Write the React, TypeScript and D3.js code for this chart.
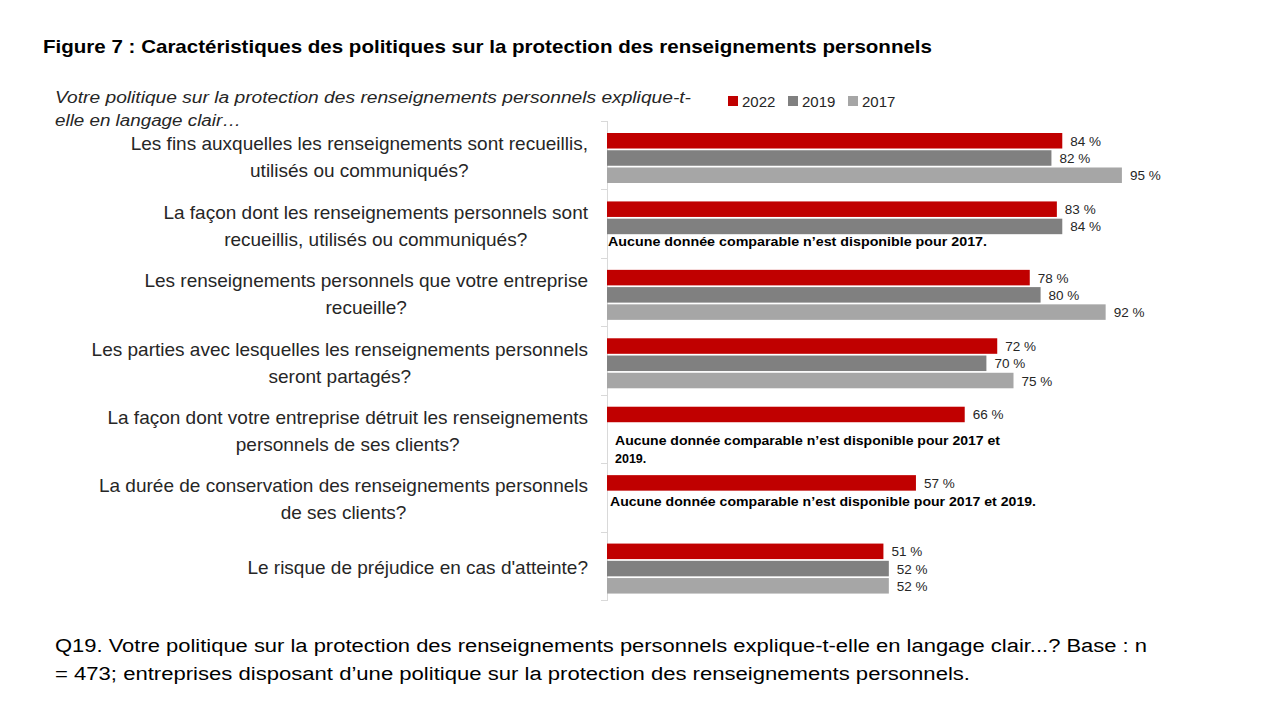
import React from "react";
import * as d3 from "d3";

const categories: string[][] = [
  ["Les fins auxquelles les renseignements sont recueillis,", "utilisés ou communiqués?"],
  ["La façon dont les renseignements personnels sont", "recueillis, utilisés ou communiqués?"],
  ["Les renseignements personnels que votre entreprise", "recueille?"],
  ["Les parties avec lesquelles les renseignements personnels", "seront partagés?"],
  ["La façon dont votre entreprise détruit les renseignements", "personnels de ses clients?"],
  ["La durée de conservation des renseignements personnels", "de ses clients?"],
  ["Le risque de préjudice en cas d'atteinte?"],
];
const seriesNames = ["2022", "2019", "2017"];
const seriesColors = ["#C00000", "#808080", "#A6A6A6"];
const v2022: (number | null)[] = [84, 83, 78, 72, 66, 57, 51];
const v2019: (number | null)[] = [82, 84, 80, 70, null, null, 52];
const v2017: (number | null)[] = [95, null, 92, 75, null, null, 52];
const notes: { cat: number; lines: string[]; widths: (number | undefined)[]; dx: number; dy: number }[] = [
  { cat: 1, lines: ["Aucune donnée comparable n’est disponible pour 2017."], widths: [379], dx: 1, dy: 53 },
  { cat: 4, lines: ["Aucune donnée comparable n’est disponible pour 2017 et", "2019."], widths: [385, undefined], dx: 8, dy: 46 },
  { cat: 5, lines: ["Aucune donnée comparable n’est disponible pour 2017 et 2019."], widths: [426], dx: 3, dy: 39 },
];
const title = "Figure 7 : Caractéristiques des politiques sur la protection des renseignements personnels";
const subtitle = ["Votre politique sur la protection des renseignements personnels explique-t-", "elle en langage clair…"];
const footer = [
  "Q19. Votre politique sur la protection des renseignements personnels explique-t-elle en langage clair...? Base : n",
  "= 473; entreprises disposant d’une politique sur la protection des renseignements personnels.",
];

const FONT = "'Liberation Sans', Arial, sans-serif";
const LABEL_SIZE = 19;

let ctx: CanvasRenderingContext2D | null = null;
function measure(t: string, size: number): number {
  if (!ctx) ctx = document.createElement("canvas").getContext("2d");
  if (!ctx) return t.length * size * 0.5;
  ctx.font = `${size}px 'Liberation Sans', Arial, sans-serif`;
  return ctx.measureText(t).width;
}

export default function App() {
  const W = 1280, H = 720;
  const allSeries = [v2022, v2019, v2017];
  const x = d3.scaleLinear().domain([0, 100]).range([607, 1149]);
  const y = d3.scaleBand<number>().domain(d3.range(categories.length)).range([121, 600]);
  const ys = d3.scaleBand<string>().domain(seriesNames).range([12, 62]).paddingInner(0.1);
  const band = y.bandwidth();

  return (
    <svg width={W} height={H} style={{ display: "block", margin: -8 }} fontFamily={FONT}>
      <rect width={W} height={H} fill="#fff" />
      <text x={43} y={53} fontSize={18.5} fontWeight="bold" fill="#000" textLength={889} lengthAdjust="spacingAndGlyphs">
        {title}
      </text>
      {subtitle.map((s, i) => (
        <text key={i} x={55} y={103 + i * 23} fontSize={16} fontStyle="italic" fill="#262626"
          textLength={i === 0 ? 636 : 186} lengthAdjust="spacingAndGlyphs">
          {s}
        </text>
      ))}
      {/* legend */}
      {seriesNames.map((s, i) => (
        <g key={s} transform={`translate(${728 + i * 60},0)`}>
          <rect x={0} y={96} width={10} height={10} fill={seriesColors[i]} />
          <text x={14} y={107} fontSize={15} fill="#262626">{s}</text>
        </g>
      ))}
      {/* axis */}
      <line x1={607.5} x2={607.5} y1={121} y2={601} stroke="#D9D9D9" />
      {d3.range(categories.length + 1).map((i) => {
        const yy = Math.round(121 + i * band) + 0.5;
        return <line key={i} x1={601} x2={607.5} y1={yy} y2={yy} stroke="#D9D9D9" />;
      })}
      {/* category labels: block right-aligned to axis, lines centred in block */}
      {categories.map((lines, i) => {
        const c = (y(i) as number) + band / 2 + 2;
        const lh = 27;
        const start = c - ((lines.length - 1) * lh) / 2;
        const blockW = Math.max(...lines.map((l) => measure(l, LABEL_SIZE)));
        const cx = 588 - blockW / 2;
        return lines.map((l, j) => (
          <text key={`${i}-${j}`} x={cx} y={start + j * lh} fontSize={LABEL_SIZE} textAnchor="middle"
            dominantBaseline="central" fill="#262626">
            {l}
          </text>
        ));
      })}
      {/* bars */}
      {allSeries.map((vals, si) =>
        vals.map((v, ci) => {
          if (v == null) return null;
          const yy = (y(ci) as number) + (ys(seriesNames[si]) as number);
          const h = ys.bandwidth();
          return (
            <g key={`${si}-${ci}`}>
              <rect x={x(0)} y={yy} width={x(v) - x(0)} height={h} fill={seriesColors[si]} />
              <text x={x(v) + 8} y={yy + h / 2 + 0.5} fontSize={13.5} dominantBaseline="central" fill="#262626">
                {`${v} %`}
              </text>
            </g>
          );
        })
      )}
      {/* notes */}
      {notes.map((n, i) =>
        n.lines.map((l, j) => (
          <text key={`${i}-${j}`} x={x(0) + n.dx} y={(y(n.cat) as number) + n.dy + j * 18} fontSize={12.5}
            fontWeight="bold" fill="#000" dominantBaseline="central"
            textLength={n.widths[j]} lengthAdjust="spacingAndGlyphs">
            {l}
          </text>
        ))
      )}
      {footer.map((f, i) => (
        <text key={i} x={55} y={652 + i * 28} fontSize={18} fill="#000"
          textLength={i === 0 ? 1092 : 915} lengthAdjust="spacingAndGlyphs">
          {f}
        </text>
      ))}
    </svg>
  );
}
